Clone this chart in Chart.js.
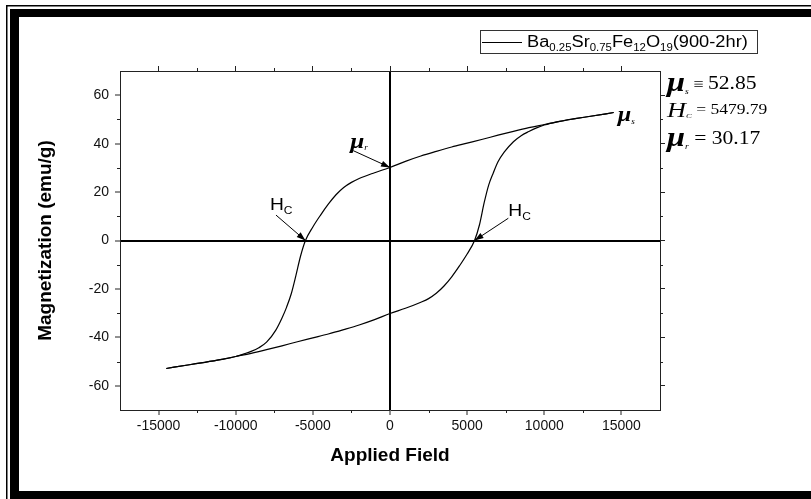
<!DOCTYPE html>
<html>
<head>
<meta charset="utf-8">
<title>Ba0.25Sr0.75Fe12O19 hysteresis loop</title>
<script src="https://cdn.jsdelivr.net/npm/chart.js@4.4.1/dist/chart.umd.min.js"></script>
<style>
  html, body { margin: 0; padding: 0; background: #fff; }
  canvas { display: block; }
</style>
</head>
<body>
<canvas id="loopChart" width="811" height="499"></canvas>
<script>
// M-H loop, values
// upper branch, field coming down from +Hmax
const descField = [14500, 13000, 12000, 11000, 10000, 9000, 8000, 7000, 6000, 5000, 4000, 3000, 2000, 1000, 0,
  -1000, -2000, -2500, -3000, -3500, -4000, -4500, -5000, -5480, -5800, -6100, -6400, -6700, -7000, -7400,
  -8000, -8500, -9000, -9500, -10000, -11000, -12000, -13000, -14500];
const descMag = [52.85, 51.3, 50.3, 49.2, 47.9, 46.6, 45.1, 43.5, 41.8, 40.2, 38.6, 36.8, 34.9, 32.7, 30.17,
  28.0, 25.6, 24.0, 21.9, 18.9, 15.0, 10.5, 5.6, 0, -6.5, -14.5, -22.0, -27.5, -32.0, -37.0,
  -42.0, -44.3, -45.8, -46.9, -47.9, -49.2, -50.3, -51.3, -52.85];
// lower branch, field going up from -Hmax
const ascField = [-14500, -13000, -12000, -11000, -10000, -9000, -8000, -7000, -6000, -5000, -4000, -3000, -2000, -1000, 0,
  1000, 2000, 2500, 3000, 3500, 4000, 4500, 5000, 5480, 5800, 6100, 6400, 6700, 7000, 7400,
  8000, 8500, 9000, 9500, 10000, 11000, 12000, 13000, 14500];
const ascMag = [-52.85, -51.3, -50.3, -49.2, -47.9, -46.6, -45.1, -43.5, -41.8, -40.2, -38.6, -36.8, -34.9, -32.7, -30.17,
  -28.0, -25.5, -24.0, -21.8, -18.8, -15.0, -10.5, -5.6, 0, 6.5, 15.5, 23.0, 28.0, 32.5, 36.5,
  40.8, 43.3, 45.0, 46.5, 47.7, 49.2, 50.3, 51.3, 52.85];

const xTicks = [-15000, -10000, -5000, 0, 5000, 10000, 15000];
const xMinor = [-12500, -7500, -2500, 2500, 7500, 12500];
const yTicks = [-60, -40, -20, 0, 20, 40, 60];
const yMinor = [-50, -30, -10, 10, 30, 50];

const Ms = 52.85, Hc = 5479.79, Mr = 30.17;

const SANS = '"Liberation Sans", Arial, Helvetica, sans-serif';
const SERIF = '"Liberation Serif", "Times New Roman", Times, serif';

function line(c, x0, y0, x1, y1) {
  c.beginPath(); c.moveTo(x0, y0); c.lineTo(x1, y1); c.stroke();
}

function arrow(c, x0, y0, x1, y1) {
  line(c, x0, y0, x1, y1);
  const a = Math.atan2(y1 - y0, x1 - x0), len = 9, hw = 3;
  c.beginPath();
  c.moveTo(x1, y1);
  c.lineTo(x1 - len * Math.cos(a) + hw * Math.sin(a), y1 - len * Math.sin(a) - hw * Math.cos(a));
  c.lineTo(x1 - len * Math.cos(a) - hw * Math.sin(a), y1 - len * Math.sin(a) + hw * Math.cos(a));
  c.closePath(); c.fill();
}

// text runs [text, font, dy], slightly widened like the original figure
function runs(c, x, y, parts, sx) {
  sx = sx || 1.2;
  parts.forEach(p => {
    c.save();
    c.font = p[1];
    c.translate(x, y + (p[2] || 0));
    c.scale(sx, 1);
    c.fillText(p[0], 0, 0);
    x += c.measureText(p[0]).width * sx;
    c.restore();
  });
  return x;
}

const frame = {
  id: 'frame',
  beforeDraw(chart) {
    const c = chart.ctx, w = chart.width, h = chart.height;
    c.save();
    c.fillStyle = '#fff';
    c.fillRect(0, 0, w, h);
    c.fillStyle = '#000';
    c.fillRect(6, 5, 1.5, h);
    c.fillRect(6, 5, w, 1.5);
    c.fillRect(10, 9, 9, h);
    c.fillRect(10, 9, w, 8);
    c.fillRect(10, 491, w, 8);
    c.restore();
  }
};

const annot = {
  id: 'annot',
  afterDraw(chart) {
    const c = chart.ctx, a = chart.chartArea;
    const sx = chart.scales.x, sy = chart.scales.y;
    const P = (h, m) => [sx.getPixelForValue(h), sy.getPixelForValue(m)];
    c.save();
    c.strokeStyle = '#222';
    c.fillStyle = '#000';
    c.lineWidth = 1;

    // minor ticks on all four sides
    xMinor.forEach(v => {
      const p = Math.round(sx.getPixelForValue(v)) + 0.5;
      line(c, p, a.bottom, p, a.bottom + 3);
      line(c, p, a.top, p, a.top - 3);
    });
    yMinor.forEach(v => {
      const p = Math.round(sy.getPixelForValue(v)) + 0.5;
      line(c, a.left - 3, p, a.left, p);
      line(c, a.right, p, a.right + 3, p);
    });

    c.strokeStyle = '#000';
    c.textAlign = 'left';
    c.textBaseline = 'alphabetic';

    // Mr arrow
    let t = P(-2380, 37.1), e = P(0, Mr);
    arrow(c, t[0], t[1], e[0], e[1]);
    runs(c, t[0] - 3, t[1] - 3, [['\u03bc', 'italic bold 22px ' + SERIF], ['r', 'italic 8px ' + SERIF, 2]], 1.15);

    // left Hc arrow
    t = P(-7390, 10.5); e = P(-Hc, 0);
    arrow(c, t[0], t[1], e[0], e[1]);
    runs(c, t[0] - 6, t[1] - 5, [['H', '16px ' + SANS], ['C', '10px ' + SANS, 4]]);

    // right Hc arrow
    t = P(7670, 9.2); e = P(Hc, 0);
    arrow(c, t[0], t[1], e[0], e[1]);
    runs(c, t[0], t[1] - 2, [['H', '16px ' + SANS], ['C', '10px ' + SANS, 4]]);

    // Ms at end of loop
    e = P(descField[0], descMag[0]);
    runs(c, e[0] + 4, e[1] + 8, [['\u03bc', 'italic bold 21px ' + SERIF], ['s', 'italic 8px ' + SERIF, 3]], 1.15);

    // values block to the right of the frame
    const bx = a.right + 7;
    runs(c, bx, 91, [['\u03bc', 'italic bold 27px ' + SERIF], ['s', 'italic 8px ' + SERIF, 3], [' \u2261 ', '15px ' + SERIF, -2], [Ms.toFixed(2), '18px ' + SERIF, -2]]);
    runs(c, bx, 117, [['H', 'italic 21px ' + SERIF], ['C', 'italic 7px ' + SERIF, 1], [' = ', '14px ' + SERIF, -3], [Hc.toFixed(2), '14px ' + SERIF, -3]], 1.25);
    runs(c, bx, 146, [['\u03bc', 'italic bold 27px ' + SERIF], ['r', 'italic 8px ' + SERIF, 3], [' = ', '18px ' + SERIF, -2], [Mr.toFixed(2), '18px ' + SERIF, -2]]);

    // legend box with subscripted formula
    c.lineWidth = 1;
    c.strokeStyle = '#333';
    c.strokeRect(480.5, 30.5, 277, 23);
    c.strokeStyle = '#000';
    line(c, 482, 42.5, 522, 42.5);
    const main = '16px ' + SANS, sub = '10px ' + SANS;
    runs(c, 527, 47, [
      ['Ba', main], ['0.25', sub, 4], ['Sr', main], ['0.75', sub, 4], ['Fe', main], ['12', sub, 4],
      ['O', main], ['19', sub, 4], ['(900-2hr)', main]
    ], 1.14);
    c.restore();
  }
};

const zeroLine = c => (c.tick && c.tick.value === 0 ? '#000' : 'rgba(0,0,0,0)');
const plain = v => String(v);

new Chart(document.getElementById('loopChart'), {
  type: 'scatter',
  data: {
    datasets: [
      {
        label: 'Ba0.25Sr0.75Fe12O19(900-2hr)',
        data: descField.map((h, i) => ({ x: h, y: descMag[i] })),
        showLine: true, borderColor: '#000', borderWidth: 1.2, pointRadius: 0,
        cubicInterpolationMode: 'monotone', fill: false
      },
      {
        label: 'ascending',
        data: ascField.map((h, i) => ({ x: h, y: ascMag[i] })),
        showLine: true, borderColor: '#000', borderWidth: 1.2, pointRadius: 0,
        cubicInterpolationMode: 'monotone', fill: false
      }
    ]
  },
  options: {
    responsive: false,
    animation: false,
    devicePixelRatio: 1,
    layout: { padding: { left: 0, right: 146, top: 66, bottom: 0 } },
    plugins: { legend: { display: false }, tooltip: { enabled: false } },
    scales: {
      x: {
        type: 'linear', position: 'bottom', min: -17500, max: 17500,
        afterBuildTicks: s => { s.ticks = xTicks.map(v => ({ value: v })); },
        afterFit: s => { s.height = 89; },
        grid: { color: zeroLine, lineWidth: 2, tickColor: '#222', tickWidth: 1, tickLength: 5 },
        border: { color: '#222', width: 1 },
        ticks: { color: '#111', font: { family: SANS, size: 14 }, padding: 3, maxRotation: 0, autoSkip: false, callback: plain },
        title: { display: true, text: 'Applied Field', color: '#000', font: { family: SANS, size: 19, weight: 'bold' }, padding: { top: 0, bottom: 32 } }
      },
      x2: {
        type: 'linear', position: 'top', min: -17500, max: 17500,
        afterBuildTicks: s => { s.ticks = xTicks.map(v => ({ value: v })); },
        afterFit: s => { s.height = 5; },
        grid: { drawOnChartArea: false, tickColor: '#222', tickLength: 5 },
        border: { color: '#222', width: 1 },
        ticks: { display: false }
      },
      y: {
        type: 'linear', position: 'left', min: -70, max: 70,
        afterBuildTicks: s => { s.ticks = yTicks.map(v => ({ value: v })); },
        afterFit: s => { s.width = 120; },
        grid: { color: zeroLine, lineWidth: 2, tickColor: '#222', tickWidth: 1, tickLength: 5 },
        border: { color: '#222', width: 1 },
        ticks: { color: '#111', font: { family: SANS, size: 14 }, padding: 6, autoSkip: false, callback: plain },
        title: { display: true, text: 'Magnetization (emu/g)', color: '#000', font: { family: SANS, size: 19, weight: 'bold' }, padding: { top: 34, bottom: 0 } }
      },
      y2: {
        type: 'linear', position: 'right', min: -70, max: 70,
        afterBuildTicks: s => { s.ticks = yTicks.map(v => ({ value: v })); },
        afterFit: s => { s.width = 5; },
        grid: { drawOnChartArea: false, tickColor: '#222', tickLength: 5 },
        border: { color: '#222', width: 1 },
        ticks: { display: false }
      }
    }
  },
  plugins: [frame, annot]
});
</script>
</body>
</html>
